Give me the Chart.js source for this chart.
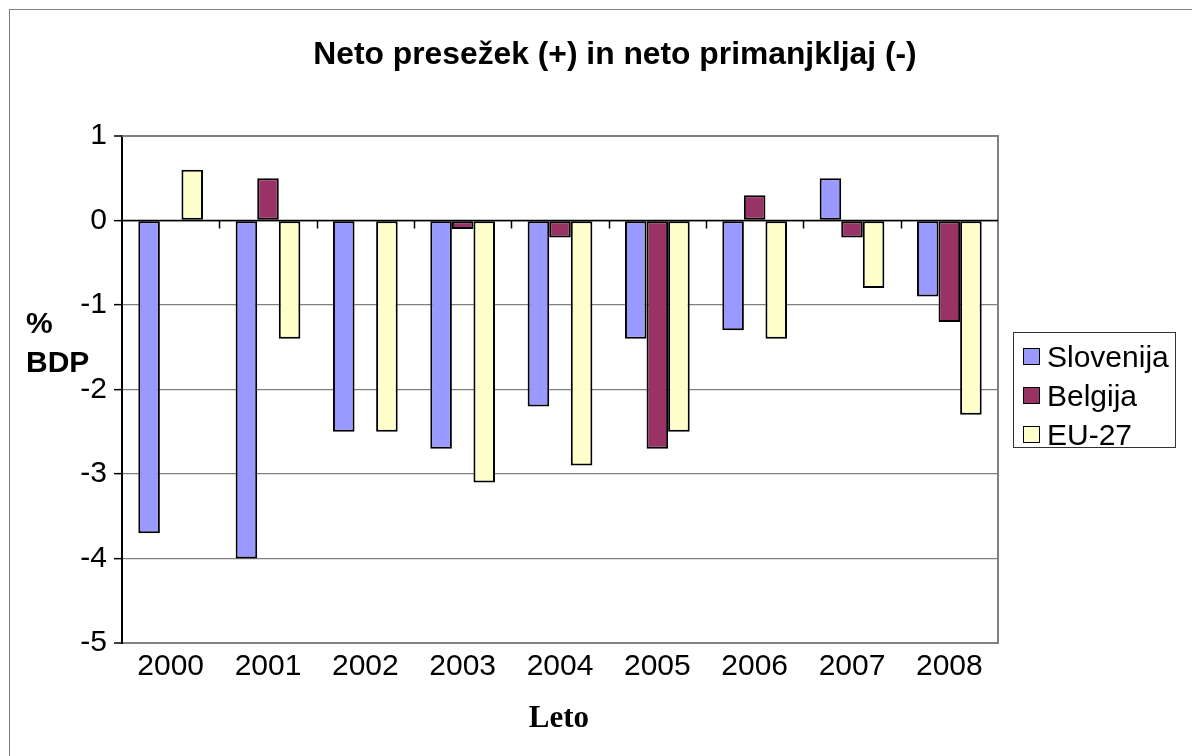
<!DOCTYPE html>
<html>
<head>
<meta charset="utf-8">
<script src="https://cdn.jsdelivr.net/npm/chart.js@4.4.1/dist/chart.umd.min.js"></script>
<style>
  html, body { margin: 0; padding: 0; background: #fff; overflow: hidden; }
  #wrap { position: relative; width: 1192px; height: 756px; overflow: hidden; }
  #frame { position: absolute; left: 9px; top: 9px; width: 1300px; height: 900px; border: 1.5px solid #808080; box-sizing: border-box; }
  canvas { position: absolute; left: 0; top: 0; }
  .txt { position: absolute; color: #000; white-space: nowrap; }
  #title { left: 0; width: 1230px; top: 38px; text-align: center; font: bold 31.8px "Liberation Sans", Arial, sans-serif; line-height: 1; }
  #ytitle { left: 26px; top: 303px; font: bold 30px "Liberation Sans", Arial, sans-serif; line-height: 39px; }
  #xtitle { left: 459px; width: 200px; top: 701px; text-align: center; font: bold 31px "Liberation Serif", "Times New Roman", serif; line-height: 1; }
  #legend { position: absolute; left: 1013px; top: 332px; width: 163px; height: 116px; border: 1px solid #333; box-sizing: border-box; padding-top: 4px; background: #fff; }
  .item { height: 39px; line-height: 39px; font: 30px "Liberation Sans", Arial, sans-serif; display: flex; align-items: center; }
  .sw { width: 15px; height: 15px; border: 1.5px solid #000; margin-left: 9px; margin-right: 7px; flex: none; }
</style>
</head>
<body>
<div id="wrap">
  <div id="frame"></div>
  <canvas id="c" width="1192" height="756"></canvas>
  <div class="txt" id="title">Neto presežek (+) in neto primanjkljaj (-)</div>
  <div class="txt" id="ytitle">%<br>BDP</div>
  <div class="txt" id="xtitle">Leto</div>
  <div id="legend"></div>
</div>
<script>
// ---- data ----
const years = ['2000', '2001', '2002', '2003', '2004', '2005', '2006', '2007', '2008'];
const seriesNames = ['Slovenija', 'Belgija', 'EU-27'];
const slovenija = [-3.7, -4.0, -2.5, -2.7, -2.2, -1.4, -1.3, 0.5, -0.9];
const belgija = [null, 0.5, null, -0.1, -0.2, -2.7, 0.3, -0.2, -1.2];
const eu27 = [0.6, -1.4, -2.5, -3.1, -2.9, -2.5, -1.4, -0.8, -2.3];
const yTicks = [1, 0, -1, -2, -3, -4, -5];

// ---- styles ----
const colors = ['#9999FF', '#993366', '#FFFFCC'];
const seriesValues = [slovenija, belgija, eu27];

const datasets = seriesNames.map((name, i) => ({
  label: name,
  data: seriesValues[i],
  backgroundColor: colors[i],
  borderColor: '#000',
  borderWidth: 2,
  borderSkipped: false,
  categoryPercentage: 0.665,
  barPercentage: 1.0
}));

// legend (HTML, built from the series)
const leg = document.getElementById('legend');
seriesNames.forEach((name, i) => {
  const row = document.createElement('div');
  row.className = 'item';
  const sw = document.createElement('span');
  sw.className = 'sw';
  sw.style.background = colors[i];
  const t = document.createElement('span');
  t.textContent = name;
  row.appendChild(sw); row.appendChild(t);
  leg.appendChild(row);
});

const framePlugin = {
  id: 'framePlugin',
  beforeDatasetsDraw(chart) {
    const { ctx, chartArea: a } = chart;
    ctx.save();
    ctx.strokeStyle = '#808080';
    ctx.lineWidth = 2;
    ctx.beginPath();
    ctx.moveTo(a.left, a.top); ctx.lineTo(a.right, a.top);
    ctx.lineTo(a.right, a.bottom);
    ctx.stroke();
    ctx.restore();
  },
  afterDatasetsDraw(chart) {
    const { ctx, chartArea: a, scales } = chart;
    const y0 = scales.y.getPixelForValue(0);
    const n = scales.x.ticks.length;
    const w = (a.right - a.left) / n;
    ctx.save();
    ctx.strokeStyle = '#000';
    ctx.lineWidth = 1.5;
    ctx.beginPath();
    ctx.moveTo(a.left, y0); ctx.lineTo(a.right, y0);
    for (let i = 1; i < n; i++) {
      const x = Math.round(a.left + i * w) + 0.5;
      ctx.moveTo(x, y0); ctx.lineTo(x, y0 + 8);
    }
    ctx.stroke();
    ctx.restore();
  }
};

new Chart(document.getElementById('c'), {
  type: 'bar',
  data: { labels: years, datasets },
  options: {
    responsive: false,
    animation: false,
    devicePixelRatio: 1,
    layout: { padding: { left: 0, right: 194, top: 136, bottom: 0 } },
    plugins: { legend: { display: false }, title: { display: false }, tooltip: { enabled: false } },
    scales: {
      x: {
        grid: { display: false, drawTicks: false },
        border: { display: true, color: '#808080', width: 2 },
        ticks: { color: '#000', padding: 6, font: { family: 'Liberation Sans', size: 30 } },
        afterFit(s) { s.height = 113; }
      },
      y: {
        min: -5, max: 1,
        afterBuildTicks(s) { s.ticks = yTicks.map(v => ({ value: v })); },
        grid: {
          color: (c) => (c.tick && c.tick.value === 0) ? '#000' : '#808080',
          lineWidth: (c) => (c.tick && (c.tick.value === 1 || c.tick.value === -5)) ? 2 : 1.3,
          drawTicks: true, tickLength: 8, tickColor: '#000', tickWidth: 1.5
        },
        border: { display: true, color: '#000', width: 2 },
        ticks: { color: '#000', padding: 7, font: { family: 'Liberation Sans', size: 30 } },
        afterFit(s) { s.width = 122; }
      }
    }
  },
  plugins: [framePlugin]
});
</script>
</body>
</html>
